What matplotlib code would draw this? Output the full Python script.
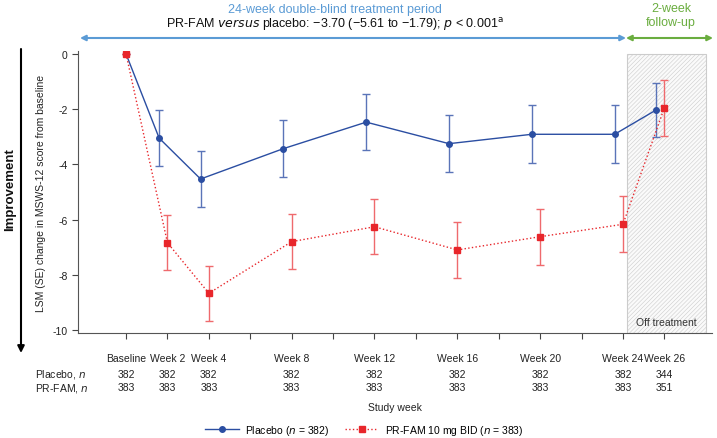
import numpy as np
import matplotlib
matplotlib.use("Agg")
import matplotlib.pyplot as plt
import matplotlib.transforms as mtransforms
from matplotlib.patches import Rectangle
from matplotlib.lines import Line2D

plt.rcParams['font.family'] = ['Liberation Sans', 'DejaVu Sans']
plt.rcParams['hatch.color'] = '#d0d0d0'
plt.rcParams['hatch.linewidth'] = 0.4

# Data
weeks = [0, 2, 4, 8, 12, 16, 20, 24, 26]
week_labels = ['Baseline', 'Week 2', 'Week 4', 'Week 8', 'Week 12', 'Week 16',
               'Week 20', 'Week 24', 'Week 26']
placebo_mean = [0, -3.05, -4.53, -3.43, -2.47, -3.25, -2.91, -2.91, -2.03]
placebo_se = [0, 1.02, 1.01, 1.02, 1.02, 1.03, 1.05, 1.05, 0.99]
prfam_mean = [0, -6.84, -8.67, -6.80, -6.26, -7.10, -6.62, -6.17, -1.95]
prfam_se = [0, 1.00, 1.00, 1.00, 1.00, 1.02, 1.02, 1.02, 1.02]
placebo_n = [382, 382, 382, 382, 382, 382, 382, 382, 344]
prfam_n = [383, 383, 383, 383, 383, 383, 383, 383, 351]

blue = '#2b4ea2'
red = '#e8262b'
lblue = '#5b9bd5'
green = '#6aad3f'
txt = '#222222'

fig = plt.figure(figsize=(7.17, 4.39), dpi=100)
ax = fig.add_axes([0.1088, 0.2385, 0.8842, 0.6426])

# placebo slightly shifted left (except baseline)
x_pl = [w - 0.4 if w > 0 else w for w in weeks]
x_pf = weeks

# off-treatment shaded region
rect = Rectangle((24.2, -10.12), 3.8, 10.12, facecolor='#fafafa', edgecolor='#cccccc',
                 hatch='////////', linewidth=0.8, zorder=0)
ax.add_patch(rect)
ax.text(26.1, -9.72, 'Off treatment', ha='center', va='center', fontsize=7.5, color='#333333')

ax.errorbar(x_pl, placebo_mean, yerr=placebo_se, color=blue, marker='o', markersize=4,
            linewidth=1, elinewidth=1, capsize=3, capthick=1, ecolor='#5a74b8', zorder=3)
ax.errorbar(x_pf, prfam_mean, yerr=prfam_se, color=red, marker='s', markersize=4,
            linewidth=1, linestyle=':', elinewidth=1, capsize=3, capthick=1,
            ecolor='#ef6a6d', zorder=4)

ax.set_xlim(-2.32, 28.3)
ax.set_ylim(-10.12, 0.1)
ax.set_yticks([0, -2, -4, -6, -8, -10])
ax.set_yticklabels(['0', '-2', '-4', '-6', '-8', '-10'])
ax.set_xticks(np.arange(0, 27, 2))
ax.set_xticklabels([])
ax.tick_params(axis='both', direction='out', length=4, width=0.8, colors='#444444',
               labelsize=7.5, labelcolor=txt)
for s in ['top', 'right']:
    ax.spines[s].set_visible(False)
for s in ['left', 'bottom']:
    ax.spines[s].set_color('#555555')
    ax.spines[s].set_linewidth(0.8)

ax.set_ylabel('LSM (SE) change in MSWS-12 score from baseline', fontsize=7.5,
              color=txt, labelpad=5)

# x labels and n table
trans = mtransforms.blended_transform_factory(ax.transData, fig.transFigure)
for w, lab, npl, npf in zip(weeks, week_labels, placebo_n, prfam_n):
    ax.text(w, 0.182, lab, transform=trans, ha='center', va='center', fontsize=7.5, color=txt)
    ax.text(w, 0.146, str(npl), transform=trans, ha='center', va='center', fontsize=7.5, color=txt)
    ax.text(w, 0.116, str(npf), transform=trans, ha='center', va='center', fontsize=7.5, color=txt)
fig.text(0.049, 0.146, 'Placebo, $\\it{n}$', ha='left', va='center', fontsize=7.5, color=txt)
fig.text(0.049, 0.116, 'PR-FAM, $\\it{n}$', ha='left', va='center', fontsize=7.5, color=txt)
fig.text(0.551, 0.071, 'Study week', ha='center', va='center', fontsize=7.5, color=txt)

# top annotations
fig.text(0.467, 0.978, '24-week double-blind treatment period', ha='center', va='center',
         fontsize=9, color=lblue)
fig.text(0.467, 0.944, 'PR-FAM $\\it{versus}$ placebo: \u22123.70 (\u22125.61 to \u22121.79); $\\it{p}$ < 0.001$^{\\rm a}$',
         ha='center', va='center', fontsize=9, color='#111111')
fig.text(0.936, 0.963, '2-week\nfollow-up', ha='center', va='center', fontsize=9,
         color=green, linespacing=1.2)
ax.annotate('', xy=(80 / 717, 1 - 39 / 439), xytext=(626 / 717, 1 - 39 / 439),
            xycoords='figure fraction', textcoords='figure fraction',
            arrowprops=dict(arrowstyle='<|-|>', color=lblue, lw=1.5,
                            mutation_scale=8, shrinkA=0, shrinkB=0))
ax.annotate('', xy=(626 / 717, 1 - 39 / 439), xytext=(713 / 717, 1 - 39 / 439),
            xycoords='figure fraction', textcoords='figure fraction',
            arrowprops=dict(arrowstyle='<|-|>', color=green, lw=1.5,
                            mutation_scale=8, shrinkA=0, shrinkB=0))

# improvement arrow
ax.annotate('', xy=(21 / 717, 1 - 354 / 439), xytext=(21 / 717, 1 - 50 / 439),
            xycoords='figure fraction', textcoords='figure fraction',
            arrowprops=dict(arrowstyle='-|>', color='black', lw=1.5,
                            mutation_scale=10, shrinkA=0, shrinkB=0))
fig.text(10 / 717, 1 - 190 / 439, 'Improvement', rotation=90, ha='center', va='center',
         fontsize=9.5, fontweight='bold', color='#111111')

# legend
handles = [Line2D([], [], color=blue, marker='o', markersize=4, lw=1),
           Line2D([], [], color=red, marker='s', markersize=4, lw=1, ls=':')]
fig.legend(handles, ['Placebo ($\\it{n}$ = 382)', 'PR-FAM 10 mg BID ($\\it{n}$ = 383)'],
           loc='center', bbox_to_anchor=(0.508, 0.018), ncol=2, frameon=False,
           fontsize=7.5, handlelength=3.2, handletextpad=0.6, columnspacing=1.5)

fig.savefig('out.png', dpi=100)
